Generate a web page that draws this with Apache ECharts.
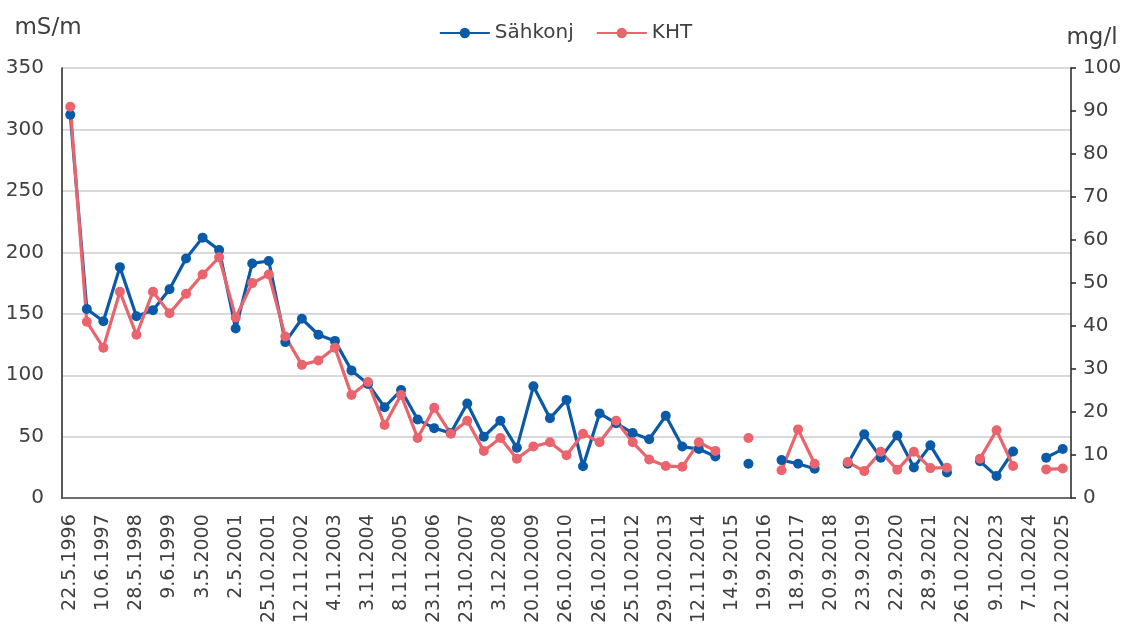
<!DOCTYPE html>
<html>
<head>
<meta charset="utf-8">
<script src="https://cdn.jsdelivr.net/npm/echarts@6/dist/echarts.min.js"></script>
<style>
html,body{margin:0;padding:0;background:#fff;}
#chart{width:1131px;height:626px;}
</style>
</head>
<body>
<div id="chart"></div>
<script>
const categories = [
  '22.5.1996','', '10.6.1997','', '28.5.1998','', '9.6.1999','', '3.5.2000','',
  '2.5.2001','', '25.10.2001','', '12.11.2002','', '4.11.2003','', '3.11.2004','',
  '8.11.2005','', '23.11.2006','', '23.10.2007','', '3.12.2008','', '20.10.2009','',
  '26.10.2010','', '26.10.2011','', '25.10.2012','', '29.10.2013','', '12.11.2014','',
  '14.9.2015','', '19.9.2016','', '18.9.2017','', '20.9.2018','', '23.9.2019','',
  '22.9.2020','', '28.9.2021','', '26.10.2022','', '9.10.2023','', '7.10.2024','',
  '22.10.2025'
];
const sahkonj = [312,154,144,188,148,153,170,195,212,202,
  138,191,193,127,146,133,128,104,93,74,
  88,64,57,53,77,50,63,41,91,65,
  80,26,69,61,53,48,67,42,40,34,
  null,28,null,31,28,24,null,28,52,33,
  51,25,43,21,null,30,18,38,null,33,
  40];
const kht = [91,41,35,48,38,48,43,47.5,52,56,
  42,50,52,37.6,31,32,35,24,27,17,
  24,14,21,15,18,11,14,9.2,12,13,
  10,15,13,18,13,9,7.5,7.3,13,11,
  null,14,null,6.5,16,8,null,8.4,6.3,10.8,
  6.6,10.8,7,7.1,null,9.2,15.8,7.5,null,6.7,
  6.9];
const leftName = 'mS/m';
const rightName = 'mg/l';

const FONT = 'DejaVu Sans';
const TXT = '#404040';
const BLUE = '#0b5aa8';
const RED = '#e9646c';

const chart = echarts.init(document.getElementById('chart'), null, {renderer:'canvas'});
chart.setOption({
  animation: false,
  backgroundColor: '#fff',
  textStyle: {fontFamily: FONT},
  legend: {
    top: 18, left: 'center',
    itemWidth: 50, itemHeight: 13, itemGap: 22,
    textStyle: {fontFamily: FONT, fontSize: 20, color: TXT},
    data: ['Sähkonj','KHT']
  },
  grid: {left: 62, right: 60, top: 68, bottom: 127, containLabel: false},
  xAxis: {
    type: 'category',
    data: categories,
    boundaryGap: true,
    axisLine: {lineStyle: {color: '#4a4a4a', width: 1.5}},
    axisTick: {show: false},
    axisLabel: {interval: 1, rotate: 90, margin: 16, fontFamily: FONT, fontSize: 19, color: TXT}
  },
  yAxis: [{
    type: 'value', min: 0, max: 350, interval: 50,
    name: leftName, nameLocation: 'end', nameGap: 28,
    nameTextStyle: {fontFamily: FONT, fontSize: 23, color: TXT, align: 'center', padding: [0, 28, 0, 0]},
    axisLine: {show: true, lineStyle: {color: '#222', width: 1.5}},
    axisTick: {show: false},
    axisLabel: {margin: 18, fontFamily: FONT, fontSize: 20, color: TXT},
    splitLine: {lineStyle: {color: '#d9d9d9', width: 2}}
  }, {
    type: 'value', min: 0, max: 100, interval: 10, position: 'right',
    name: rightName, nameLocation: 'end', nameGap: 18,
    nameTextStyle: {fontFamily: FONT, fontSize: 23, color: TXT, align: 'center', padding: [0, 0, 0, 42]},
    axisLine: {show: true, lineStyle: {color: '#222', width: 1.5}},
    axisTick: {show: true, inside: false, length: 5, lineStyle: {color: '#222', width: 1.5}},
    axisLabel: {margin: 12, fontFamily: FONT, fontSize: 20, color: TXT},
    splitLine: {show: false}
  }],
  series: [{
    name: 'Sähkonj', type: 'line', yAxisIndex: 0,
    data: sahkonj, connectNulls: false,
    symbol: 'circle', symbolSize: 10, showAllSymbol: true,
    lineStyle: {color: BLUE, width: 3.2},
    itemStyle: {color: BLUE}
  }, {
    name: 'KHT', type: 'line', yAxisIndex: 1,
    data: kht, connectNulls: false,
    symbol: 'circle', symbolSize: 10, showAllSymbol: true,
    lineStyle: {color: RED, width: 3.2},
    itemStyle: {color: RED}
  }]
});
</script>
</body>
</html>
